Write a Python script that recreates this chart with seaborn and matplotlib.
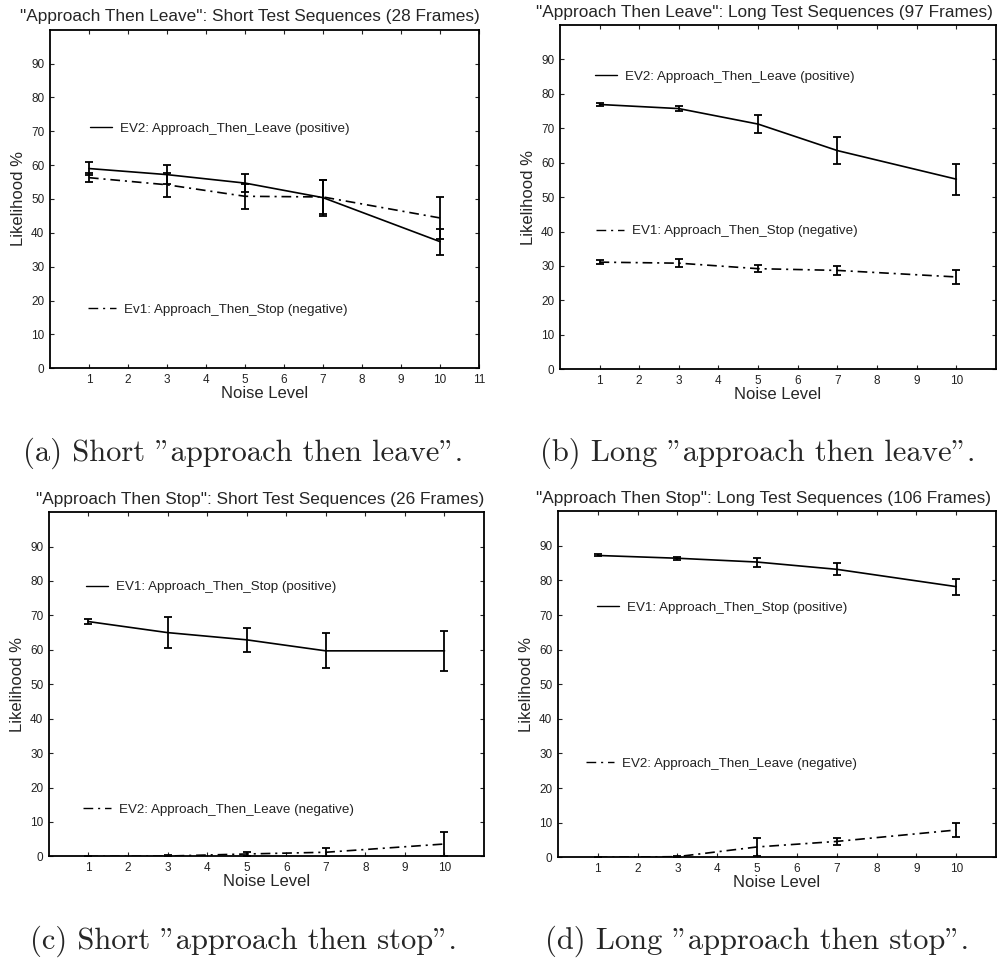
import numpy as np
import pandas as pd
import matplotlib.pyplot as plt
import seaborn as sns
from matplotlib.lines import Line2D

# noise levels tested
noise_levels = [1, 3, 5, 7, 10]

# (a) short "approach then leave" (28 frames)
a_pos = [59.0, 57.2, 54.7, 50.4, 37.4]
a_pos_err = [1.8, 2.8, 2.6, 5.3, 3.8]
a_neg = [56.3, 54.2, 50.8, 50.6, 44.4]
a_neg_err = [1.3, 3.6, 3.7, 5.0, 6.2]

# (b) long "approach then leave" (97 frames)
b_pos = [76.9, 75.7, 71.2, 63.5, 55.2]
b_pos_err = [0.5, 0.8, 2.7, 4.0, 4.5]
b_neg = [31.1, 30.8, 29.2, 28.7, 26.8]
b_neg_err = [0.5, 1.2, 1.1, 1.3, 2.0]

# (c) short "approach then stop" (26 frames)
c_pos = [68.2, 65.0, 62.9, 59.7, 59.7]
c_pos_err = [0.8, 4.5, 3.4, 5.1, 5.8]
c_neg = [0.0, 0.1, 0.7, 1.2, 3.6]
c_neg_err = [0.1, 0.2, 0.6, 1.3, 3.5]

# (d) long "approach then stop" (106 frames)
d_pos = [87.2, 86.4, 85.3, 83.2, 78.2]
d_pos_err = [0.3, 0.4, 1.3, 1.7, 2.3]
d_neg = [0.0, 0.2, 3.0, 4.6, 7.9]
d_neg_err = [0.1, 0.2, 2.6, 1.0, 2.0]

titles = ['"Approach Then Leave": Short Test Sequences (28 Frames)',
          '"Approach Then Leave": Long Test Sequences (97 Frames)',
          '"Approach Then Stop": Short Test Sequences (26 Frames)',
          '"Approach Then Stop": Long Test Sequences (106 Frames)']
captions = ['(a) Short "approach then leave".',
            '(b) Long "approach then leave".',
            '(c) Short "approach then stop".',
            '(d) Long "approach then stop".']
pos_labels = ['EV2: Approach_Then_Leave (positive)',
              'EV2: Approach_Then_Leave (positive)',
              'EV1: Approach_Then_Stop (positive)',
              'EV1: Approach_Then_Stop (positive)']
neg_labels = ['Ev1: Approach_Then_Stop (negative)',
              'EV1: Approach_Then_Stop (negative)',
              'EV2: Approach_Then_Leave (negative)',
              'EV2: Approach_Then_Leave (negative)']
y_ticks = list(range(0, 100, 10))

series = [(a_pos, a_pos_err, a_neg, a_neg_err),
          (b_pos, b_pos_err, b_neg, b_neg_err),
          (c_pos, c_pos_err, c_neg, c_neg_err),
          (d_pos, d_pos_err, d_neg, d_neg_err)]

# layout of the four panels
axes_rects = [[0.050, 0.616, 0.430, 0.353],
              [0.561, 0.615, 0.437, 0.359],
              [0.049, 0.107, 0.436, 0.359],
              [0.559, 0.106, 0.439, 0.361]]
x_tick_sets = [range(1, 12), range(1, 11), range(1, 11), range(1, 11)]
title_x = [0.466, 0.469, 0.485, 0.470]
pos_leg = [(0.093, 0.708), (0.080, 0.850), (0.085, 0.782), (0.089, 0.722)]
neg_leg = [(0.089, 0.174), (0.082, 0.401), (0.078, 0.135), (0.064, 0.271)]
caption_xy = [(0.244, 0.527), (0.759, 0.527), (0.244, 0.018), (0.759, 0.018)]

sns.set_style('ticks')
plt.rcParams['font.family'] = ['Liberation Sans', 'DejaVu Sans']
plt.rcParams['lines.scale_dashes'] = False

dashdot = (0, (7, 3.5, 1.5, 3.5))

fig = plt.figure(figsize=(9.98, 9.59), dpi=100)

for i in range(4):
    pos, pos_err, neg, neg_err = series[i]
    df = pd.DataFrame({'noise': noise_levels * 2,
                       'likelihood': pos + neg,
                       'err': pos_err + neg_err,
                       'kind': ['positive'] * 5 + ['negative'] * 5})
    ax = fig.add_axes(axes_rects[i])

    for kind, ls in [('positive', '-'), ('negative', dashdot)]:
        sub = df[df['kind'] == kind]
        sns.lineplot(data=sub, x='noise', y='likelihood', color='black', lw=1.2,
                     linestyle=ls, errorbar=None, ax=ax)
        ax.errorbar(sub['noise'], sub['likelihood'], yerr=sub['err'], fmt='none',
                    ecolor='black', elinewidth=1.3, capsize=3, capthick=1.3)

    ax.set_xlim(0, 11)
    ax.set_ylim(0, 100)
    ax.set_xticks(list(x_tick_sets[i]))
    ax.set_yticks(y_ticks)
    ax.tick_params(direction='in', length=3, width=0.8, labelsize=8.5,
                   top=True, right=True, pad=4, colors='#222222')
    for sp in ax.spines.values():
        sp.set_visible(True)
        sp.set_linewidth(1.3)
        sp.set_color('black')

    ax.set_title(titles[i], fontsize=12.4, x=title_x[i], pad=6)
    ax.set_xlabel('Noise Level', fontsize=12, labelpad=0)
    ax.set_ylabel('Likelihood %', fontsize=12, labelpad=4)

    h_pos = Line2D([0], [0], color='black', lw=1.0, linestyle='-')
    h_neg = Line2D([0], [0], color='black', lw=1.0, linestyle=dashdot)
    leg1 = ax.legend(handles=[h_pos], labels=[pos_labels[i]], loc='center left',
                     bbox_to_anchor=pos_leg[i], frameon=False, fontsize=9.6,
                     handlelength=1.65, handletextpad=0.6, borderpad=0,
                     borderaxespad=0, labelcolor='#222222')
    ax.add_artist(leg1)
    ax.legend(handles=[h_neg], labels=[neg_labels[i]], loc='center left',
              bbox_to_anchor=neg_leg[i], frameon=False, fontsize=9.6,
              handlelength=2.1, handletextpad=0.6, borderpad=0,
              borderaxespad=0, labelcolor='#222222')

    fig.text(caption_xy[i][0], caption_xy[i][1], captions[i], family='cmr10',
             fontsize=22, ha='center', va='center')

plt.savefig('out.png', dpi=100)
